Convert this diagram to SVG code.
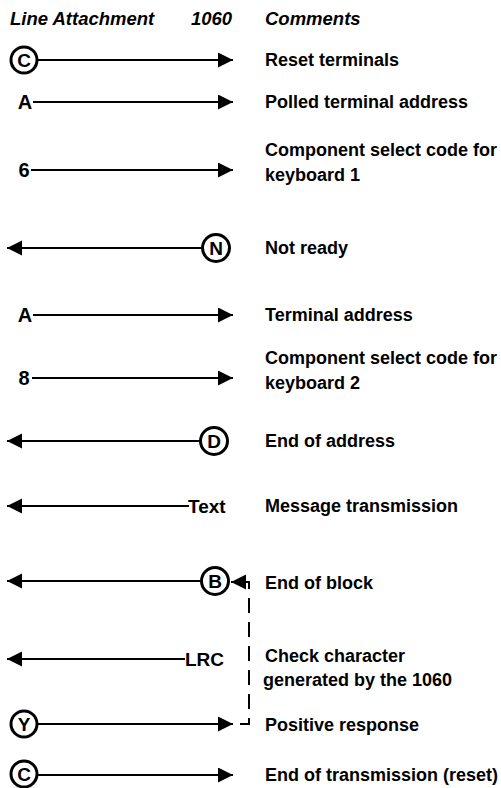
<svg xmlns="http://www.w3.org/2000/svg" width="501" height="788" viewBox="0 0 501 788">
<style>
text{font-family:"Liberation Sans",Arial,sans-serif;font-weight:bold;fill:#000}
.hd{font-style:italic;font-size:18.5px}
.cm{font-size:18px}
.lt{font-size:19px;text-anchor:middle}
.pl{font-size:20px;text-anchor:middle}
.lb{font-size:19px}
.ring{fill:#fff;stroke:#000;stroke-width:3}
.ln{stroke:#000;stroke-width:2;fill:none}
.dash{stroke:#000;stroke-width:2;fill:none;stroke-dasharray:15 9}
</style>
<defs>
<marker id="ah" markerUnits="userSpaceOnUse" markerWidth="16" markerHeight="16" refX="15" refY="7.5" orient="auto" viewBox="0 0 16 16">
<path d="M0,0 L15,7.5 L0,15 z" fill="#000"/>
</marker>
</defs>
<rect width="501" height="788" fill="#fff"/>
<g id="header">
<text class="hd" x="10" y="25">Line Attachment</text>
<text class="hd" x="191" y="25">1060</text>
<text class="hd" x="265" y="25">Comments</text>
</g>
<g id="connectors">
<line class="ln" x1="38" y1="60" x2="233" y2="60" marker-end="url(#ah)"/>
<line class="ln" x1="33" y1="102" x2="233" y2="102" marker-end="url(#ah)"/>
<line class="ln" x1="31" y1="170" x2="233" y2="170" marker-end="url(#ah)"/>
<line class="ln" x1="202" y1="248" x2="7" y2="248" marker-end="url(#ah)"/>
<line class="ln" x1="33" y1="315" x2="233" y2="315" marker-end="url(#ah)"/>
<line class="ln" x1="32" y1="378" x2="233" y2="378" marker-end="url(#ah)"/>
<line class="ln" x1="200" y1="441" x2="7" y2="441" marker-end="url(#ah)"/>
<line class="ln" x1="189" y1="506" x2="7" y2="506" marker-end="url(#ah)"/>
<line class="ln" x1="201" y1="581" x2="7" y2="581" marker-end="url(#ah)"/>
<line class="ln" x1="185" y1="659" x2="7" y2="659" marker-end="url(#ah)"/>
<line class="ln" x1="38" y1="724" x2="233" y2="724" marker-end="url(#ah)"/>
<line class="ln" x1="38" y1="775" x2="233" y2="775" marker-end="url(#ah)"/>
<path class="dash" d="M240,724 H249 V582 H246"/>
<line class="ln" x1="249" y1="582" x2="231" y2="582" marker-end="url(#ah)"/>
</g>
<g id="n-reset">
<circle class="ring" cx="24" cy="60" r="13"/>
<text class="lt" x="24" y="67">C</text>
<text class="cm" x="265" y="66">Reset terminals</text>
</g>
<g id="n-polled">
<text class="pl" x="25" y="109">A</text>
<text class="cm" x="265" y="108">Polled terminal address</text>
</g>
<g id="n-select1">
<text class="pl" x="24" y="177">6</text>
<text class="cm" x="265" y="156">Component select code for</text>
<text class="cm" x="265" y="181">keyboard 1</text>
</g>
<g id="n-notready">
<circle class="ring" cx="216" cy="248" r="13.5"/>
<text class="lt" x="216" y="255">N</text>
<text class="cm" x="265" y="254">Not ready</text>
</g>
<g id="n-address">
<text class="pl" x="25" y="322">A</text>
<text class="cm" x="265" y="321">Terminal address</text>
</g>
<g id="n-select2">
<text class="pl" x="24" y="385">8</text>
<text class="cm" x="265" y="364">Component select code for</text>
<text class="cm" x="265" y="389">keyboard 2</text>
</g>
<g id="n-eoa">
<circle class="ring" cx="214" cy="441" r="13.5"/>
<text class="lt" x="214" y="448">D</text>
<text class="cm" x="265" y="447">End of address</text>
</g>
<g id="n-text">
<text class="lb" x="188" y="513">Text</text>
<text class="cm" x="265" y="512">Message transmission</text>
</g>
<g id="n-eob">
<circle class="ring" cx="215" cy="581" r="13.5"/>
<text class="lt" x="215" y="588">B</text>
<text class="cm" x="265" y="589">End of block</text>
</g>
<g id="n-lrc">
<text class="lb" x="185" y="666">LRC</text>
<text class="cm" x="265" y="662">Check character</text>
<text class="cm" x="263" y="686">generated by the 1060</text>
</g>
<g id="n-positive">
<circle class="ring" cx="24" cy="724" r="13"/>
<text class="lt" x="24" y="731">Y</text>
<text class="cm" x="265" y="731">Positive response</text>
</g>
<g id="n-eot">
<circle class="ring" cx="24" cy="774" r="13"/>
<text class="lt" x="24" y="781">C</text>
<text class="cm" x="265" y="781">End of transmission (reset)</text>
</g>
</svg>
